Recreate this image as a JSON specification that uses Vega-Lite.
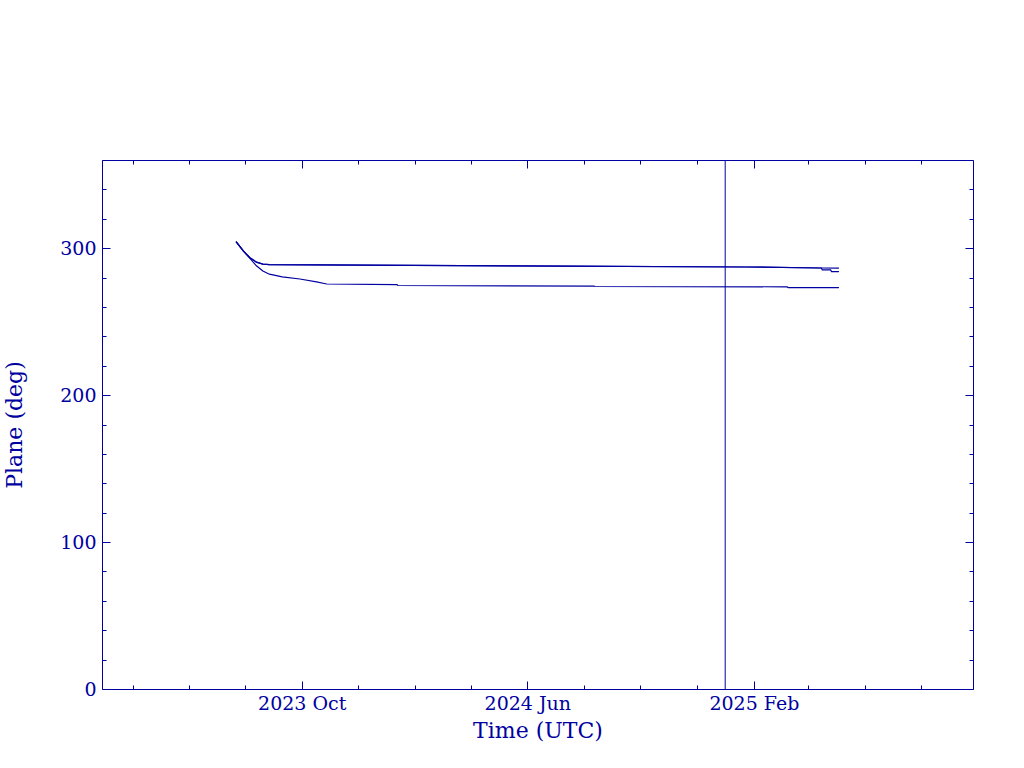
{
  "$schema": "https://vega.github.io/schema/vega-lite/v6.json",
  "autosize": {"type": "none"},
  "width": 871,
  "height": 529,
  "padding": {"left": 102, "top": 160, "right": 51, "bottom": 79},
  "background": "white",
  "config": {
    "view": {"stroke": "#0000a0", "strokeWidth": 1},
    "axis": {
      "domain": false,
      "grid": false,
      "tickColor": "#0000a0",
      "tickWidth": 1,
      "labelColor": "#0000a0",
      "titleColor": "#0000a0",
      "labelFont": "DejaVu Serif",
      "titleFont": "DejaVu Serif",
      "labelFontSize": 19,
      "titleFontSize": 22,
      "titleFontWeight": "normal"
    }
  },
  "resolve": {"axis": {"x": "independent", "y": "independent"}},
  "layer": [
    {
      "data": {
        "values": [
          {"t": "2023-07-22", "v": 304.5, "s": "A"},
          {"t": "2023-07-30", "v": 298.0, "s": "A"},
          {"t": "2023-08-06", "v": 293.5, "s": "A"},
          {"t": "2023-08-13", "v": 290.5, "s": "A"},
          {"t": "2023-08-20", "v": 289.2, "s": "A"},
          {"t": "2023-08-27", "v": 288.8, "s": "A"},
          {"t": "2023-12-06", "v": 288.5, "s": "A"},
          {"t": "2024-07-11", "v": 287.8, "s": "A"},
          {"t": "2025-01-24", "v": 287.2, "s": "A"},
          {"t": "2025-04-15", "v": 286.5, "s": "A"},
          {"t": "2025-05-04", "v": 286.4, "s": "A"},
          {"t": "2023-07-22", "v": 304.5, "s": "B"},
          {"t": "2023-07-30", "v": 298.0, "s": "B"},
          {"t": "2023-08-06", "v": 293.5, "s": "B"},
          {"t": "2023-08-13", "v": 290.5, "s": "B"},
          {"t": "2023-08-20", "v": 289.2, "s": "B"},
          {"t": "2023-08-27", "v": 288.8, "s": "B"},
          {"t": "2023-12-06", "v": 288.5, "s": "B"},
          {"t": "2024-07-11", "v": 287.8, "s": "B"},
          {"t": "2025-01-24", "v": 287.2, "s": "B"},
          {"t": "2025-04-15", "v": 286.5, "s": "B"},
          {"t": "2025-04-16", "v": 285.2, "s": "B"},
          {"t": "2025-04-25", "v": 285.2, "s": "B"},
          {"t": "2025-04-26", "v": 284.1, "s": "B"},
          {"t": "2025-05-04", "v": 284.1, "s": "B"},
          {"t": "2023-07-22", "v": 304.5, "s": "C"},
          {"t": "2023-07-30", "v": 298.0, "s": "C"},
          {"t": "2023-08-06", "v": 293.0, "s": "C"},
          {"t": "2023-08-13", "v": 288.0, "s": "C"},
          {"t": "2023-08-20", "v": 284.5, "s": "C"},
          {"t": "2023-08-27", "v": 282.3, "s": "C"},
          {"t": "2023-09-10", "v": 280.5, "s": "C"},
          {"t": "2023-09-29", "v": 279.0, "s": "C"},
          {"t": "2023-10-17", "v": 277.0, "s": "C"},
          {"t": "2023-10-28", "v": 275.6, "s": "C"},
          {"t": "2024-01-12", "v": 275.2, "s": "C"},
          {"t": "2024-01-13", "v": 274.6, "s": "C"},
          {"t": "2024-08-12", "v": 274.2, "s": "C"},
          {"t": "2024-08-13", "v": 273.9, "s": "C"},
          {"t": "2025-03-09", "v": 273.7, "s": "C"},
          {"t": "2025-03-10", "v": 273.2, "s": "C"},
          {"t": "2025-05-04", "v": 273.2, "s": "C"}
        ]
      },
      "layer": [
        {
          "mark": {"type": "line", "color": "#0000a0", "strokeWidth": 1.2, "interpolate": "linear"},
          "encoding": {
            "x": {
              "field": "t", "type": "temporal",
              "scale": {"type": "utc", "domain": [{"year": 2023, "month": 2, "date": 27, "utc": true}, {"year": 2025, "month": 9, "date": 26, "utc": true}]},
              "axis": {
                "orient": "bottom",
                "title": "Time (UTC)",
                "titlePadding": 3,
                "values": [
                  {"year": 2023, "month": 4, "date": 1, "utc": true},
                  {"year": 2023, "month": 6, "date": 1, "utc": true},
                  {"year": 2023, "month": 8, "date": 1, "utc": true},
                  {"year": 2023, "month": 10, "date": 1, "utc": true},
                  {"year": 2023, "month": 12, "date": 1, "utc": true},
                  {"year": 2024, "month": 2, "date": 1, "utc": true},
                  {"year": 2024, "month": 4, "date": 1, "utc": true},
                  {"year": 2024, "month": 6, "date": 1, "utc": true},
                  {"year": 2024, "month": 8, "date": 1, "utc": true},
                  {"year": 2024, "month": 10, "date": 1, "utc": true},
                  {"year": 2024, "month": 12, "date": 1, "utc": true},
                  {"year": 2025, "month": 2, "date": 1, "utc": true},
                  {"year": 2025, "month": 4, "date": 1, "utc": true},
                  {"year": 2025, "month": 6, "date": 1, "utc": true},
                  {"year": 2025, "month": 8, "date": 1, "utc": true}
                ],
                "labelExpr": "(utcyear(datum.value)*12+utcmonth(datum.value))%8==5 ? utcFormat(datum.value, '%Y %b') : ''",
                "tickSize": {"condition": {"test": "(utcyear(datum.value)*12+utcmonth(datum.value))%8==5", "value": -8}, "value": -4},
                "labelPadding": 13,
                "labelFlush": false,
                "labelOverlap": false
              }
            },
            "y": {
              "field": "v", "type": "quantitative",
              "scale": {"domain": [0, 360], "nice": false, "zero": false},
              "axis": {
                "orient": "left",
                "title": "Plane (deg)",
                "titlePadding": 33,
                "values": [0, 20, 40, 60, 80, 100, 120, 140, 160, 180, 200, 220, 240, 260, 280, 300, 320, 340, 360],
                "labelExpr": "datum.value % 100 == 0 ? datum.label : ''",
                "tickSize": {"condition": {"test": "datum.value % 100 == 0", "value": -8}, "value": -4},
                "labelPadding": 14,
                "labelOverlap": false
              }
            },
            "detail": {"field": "s", "type": "nominal"}
          }
        },
        {
          "mark": {"type": "line", "opacity": 0},
          "encoding": {
            "x": {
              "field": "t", "type": "temporal",
              "axis": {
                "orient": "top",
                "title": null,
                "labels": false,
                "values": [
                  {"year": 2023, "month": 4, "date": 1, "utc": true},
                  {"year": 2023, "month": 6, "date": 1, "utc": true},
                  {"year": 2023, "month": 8, "date": 1, "utc": true},
                  {"year": 2023, "month": 10, "date": 1, "utc": true},
                  {"year": 2023, "month": 12, "date": 1, "utc": true},
                  {"year": 2024, "month": 2, "date": 1, "utc": true},
                  {"year": 2024, "month": 4, "date": 1, "utc": true},
                  {"year": 2024, "month": 6, "date": 1, "utc": true},
                  {"year": 2024, "month": 8, "date": 1, "utc": true},
                  {"year": 2024, "month": 10, "date": 1, "utc": true},
                  {"year": 2024, "month": 12, "date": 1, "utc": true},
                  {"year": 2025, "month": 2, "date": 1, "utc": true},
                  {"year": 2025, "month": 4, "date": 1, "utc": true},
                  {"year": 2025, "month": 6, "date": 1, "utc": true},
                  {"year": 2025, "month": 8, "date": 1, "utc": true}
                ],
                "tickSize": {"condition": {"test": "(utcyear(datum.value)*12+utcmonth(datum.value))%8==5", "value": -8}, "value": -4}
              }
            },
            "y": {
              "field": "v", "type": "quantitative",
              "axis": {
                "orient": "right",
                "title": null,
                "labels": false,
                "values": [0, 20, 40, 60, 80, 100, 120, 140, 160, 180, 200, 220, 240, 260, 280, 300, 320, 340, 360],
                "tickSize": {"condition": {"test": "datum.value % 100 == 0", "value": -8}, "value": -4}
              }
            },
            "detail": {"field": "s", "type": "nominal"}
          }
        }
      ]
    },
    {
      "data": {"values": [{"t": "2025-01-01"}]},
      "mark": {"type": "rule", "color": "#0000a0", "strokeWidth": 1},
      "encoding": {
        "x": {"field": "t", "type": "temporal", "axis": null}
      }
    }
  ]
}
